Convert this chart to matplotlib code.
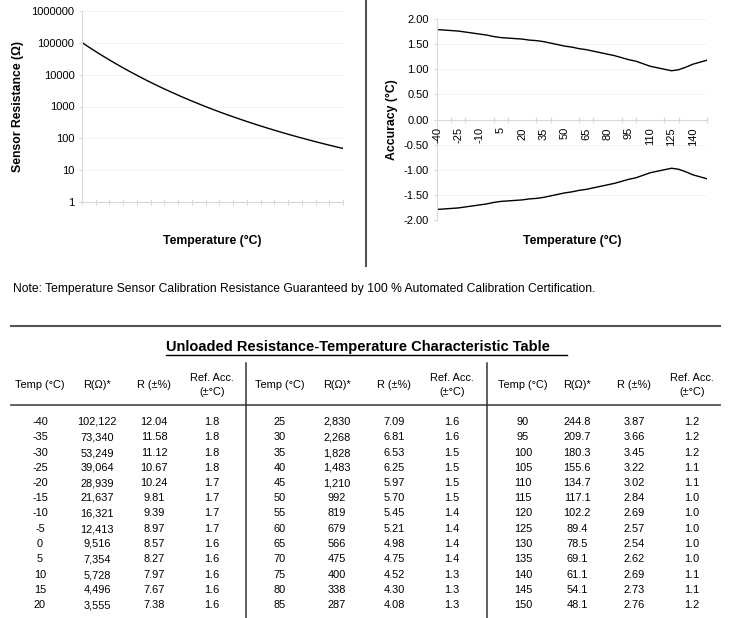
import matplotlib
matplotlib.use("Agg")
import matplotlib.pyplot as plt
from matplotlib.ticker import FixedLocator, NullLocator, NullFormatter, FuncFormatter, MultipleLocator

plt.rcParams['font.family'] = ['Liberation Sans', 'DejaVu Sans']

# ---- data ----
temps = list(range(-40, 155, 5))
resistance = [102122, 73340, 53249, 39064, 28939, 21637, 16321, 12413, 9516, 7354, 5728, 4496, 3555,
              2830, 2268, 1828, 1483, 1210, 992, 819, 679, 566, 475, 400, 338, 287,
              244.8, 209.7, 180.3, 155.6, 134.7, 117.1, 102.2, 89.4, 78.5, 69.1, 61.1, 54.1, 48.1]
tolerance_pct = [12.04, 11.58, 11.12, 10.67, 10.24, 9.81, 9.39, 8.97, 8.57, 8.27, 7.97, 7.67, 7.38,
                 7.09, 6.81, 6.53, 6.25, 5.97, 5.70, 5.45, 5.21, 4.98, 4.75, 4.52, 4.30, 4.08,
                 3.87, 3.66, 3.45, 3.22, 3.02, 2.84, 2.69, 2.57, 2.54, 2.62, 2.69, 2.73, 2.76]
ref_accuracy = [1.8, 1.8, 1.8, 1.8, 1.7, 1.7, 1.7, 1.7, 1.6, 1.6, 1.6, 1.6, 1.6,
                1.6, 1.6, 1.5, 1.5, 1.5, 1.5, 1.4, 1.4, 1.4, 1.4, 1.3, 1.3, 1.3,
                1.2, 1.2, 1.2, 1.1, 1.1, 1.0, 1.0, 1.0, 1.0, 1.0, 1.1, 1.1, 1.2]
# accuracy band (upper edge; lower edge is its mirror)
accuracy_upper = [1.79, 1.78, 1.77, 1.76, 1.74, 1.72, 1.70, 1.68, 1.65, 1.63, 1.62, 1.61, 1.60,
                  1.58, 1.57, 1.55, 1.52, 1.49, 1.46, 1.44, 1.41, 1.39, 1.36, 1.33, 1.30, 1.27,
                  1.23, 1.19, 1.16, 1.11, 1.06, 1.03, 1.00, 0.97, 0.99, 1.04, 1.10, 1.14, 1.18]

headers = ["Temp (°C)", "R(Ω)*", "R (±%)", "Ref. Acc.\n(±°C)"]
title = "Unloaded Resistance-Temperature Characteristic Table"
note = "Note: Temperature Sensor Calibration Resistance Guaranteed by 100 % Automated Calibration Certification."

AXIS_GRAY = '#d9d9d9'
GRID_GRAY = '#f2f2f2'
RULE = '#555555'
TICK_FS = 8
TABLE_FS = 7.9

W, H = 732, 618
fig = plt.figure(figsize=(W / 100, H / 100), dpi=100)


def px_rect(x0, y0, x1, y1):
    return [x0 / W, 1 - y1 / H, (x1 - x0) / W, (y1 - y0) / H]


idx = list(range(len(temps)))

# ---- resistance chart ----
ax1 = fig.add_axes(px_rect(82, 11, 343, 202))
ax1.plot(idx, resistance, color='black', lw=1.0)
ax1.set_yscale('log')
ax1.set_ylim(1, 1e6)
ax1.set_xlim(0, len(temps) - 1)
ax1.yaxis.set_major_locator(FixedLocator([10 ** k for k in range(7)]))
ax1.yaxis.set_minor_locator(NullLocator())
ax1.yaxis.set_major_formatter(FuncFormatter(lambda v, p: f"{v:.0f}"))
ax1.xaxis.set_major_locator(MultipleLocator(2))
ax1.xaxis.set_major_formatter(NullFormatter())
ax1.tick_params(axis='x', direction='inout', length=4, width=0.8, color=AXIS_GRAY)
ax1.tick_params(axis='y', direction='out', length=2.5, width=0.8, color=AXIS_GRAY, pad=3, labelsize=TICK_FS)
ax1.grid(axis='y', color=GRID_GRAY, lw=0.6)
ax1.set_axisbelow(True)
for s in ['top', 'right']:
    ax1.spines[s].set_visible(False)
for s in ['left', 'bottom']:
    ax1.spines[s].set_color(AXIS_GRAY)
    ax1.spines[s].set_linewidth(0.8)

# ---- accuracy chart ----
ax2 = fig.add_axes(px_rect(437, 19, 707, 220))
ax2.plot(idx, accuracy_upper, color='black', lw=1.0)
ax2.plot(idx, [-a for a in accuracy_upper], color='black', lw=1.0)
ax2.set_ylim(-2, 2)
ax2.set_xlim(0, len(temps) - 1)
ax2.yaxis.set_major_locator(MultipleLocator(0.5))
ax2.yaxis.set_major_formatter(FuncFormatter(lambda v, p: f"{v:.2f}"))
ax2.xaxis.set_major_locator(FixedLocator(idx[::3]))
ax2.xaxis.set_major_formatter(FuncFormatter(lambda v, p: str(temps[int(round(v))])))
ax2.xaxis.set_minor_locator(MultipleLocator(2))
ax2.tick_params(axis='x', which='major', length=0, pad=5.5, labelsize=TICK_FS, labelrotation=90)
ax2.tick_params(axis='x', which='minor', direction='inout', length=4, width=0.8, color=AXIS_GRAY)
ax2.tick_params(axis='y', direction='out', length=2.5, width=0.8, color=AXIS_GRAY, pad=3.5, labelsize=TICK_FS)
ax2.grid(axis='y', color=GRID_GRAY, lw=0.6)
ax2.set_axisbelow(True)
ax2.xaxis.set_zorder(3)  # keep the "-40" label on top of the y spine
ax2.spines['bottom'].set_position(('data', 0))
for s in ['top', 'right']:
    ax2.spines[s].set_visible(False)
for s in ['left', 'bottom']:
    ax2.spines[s].set_color(AXIS_GRAY)
    ax2.spines[s].set_linewidth(0.8)

# ---- overlay for labels, note and table ----
tab = fig.add_axes([0, 0, 1, 1])
tab.set_xlim(0, W)
tab.set_ylim(H, 0)
tab.axis('off')

lab = dict(fontsize=8.8, fontweight='bold', ha='center', va='center')
tab.text(18, 106, "Sensor Resistance (Ω)", rotation=90, **lab)
tab.text(212.5, 241, "Temperature (°C)", **lab)
tab.text(392, 120, "Accuracy (°C)", rotation=90, **lab)
tab.text(572, 241, "Temperature (°C)", **lab)
tab.plot([366, 366], [0, 266], color=RULE, lw=1.5)

tab.text(13, 289, note, fontsize=8.75, ha='left', va='center')

# table rules
tab.plot([11, 720], [326, 326], color=RULE, lw=1.5)
tab.plot([11, 720], [405, 405], color=RULE, lw=1.3)
for xv in [246, 487]:
    tab.plot([xv, xv], [363, 618], color='#333333', lw=1.1)

tab.text(166, 347, title, fontsize=10.5, fontweight='bold', ha='left', va='center')
tab.plot([166, 567], [355, 355], color='black', lw=1.0)

col_x = [[40, 97, 154, 212], [280, 337, 394, 452], [523, 577, 634, 692]]
rows_per_group = 13
cell = dict(fontsize=TABLE_FS, ha='center', va='baseline')
for g, xs in enumerate(col_x):
    for x, htxt in zip(xs, headers):
        tab.text(x, 385, htxt, fontsize=TABLE_FS, ha='center', va='center', linespacing=1.4)
    for r in range(rows_per_group):
        i = g * rows_per_group + r
        if i >= len(temps):
            break
        y = round(425 + r * 15.25)
        t = temps[i]
        rtxt = f"{resistance[i]:,.0f}" if t <= 85 else f"{resistance[i]:.1f}"
        vals = [str(t), rtxt, f"{tolerance_pct[i]:.2f}", f"{ref_accuracy[i]:.1f}"]
        for x, v in zip(xs, vals):
            tab.text(x, y, v, **cell)

fig.savefig("out.png", dpi=100)
